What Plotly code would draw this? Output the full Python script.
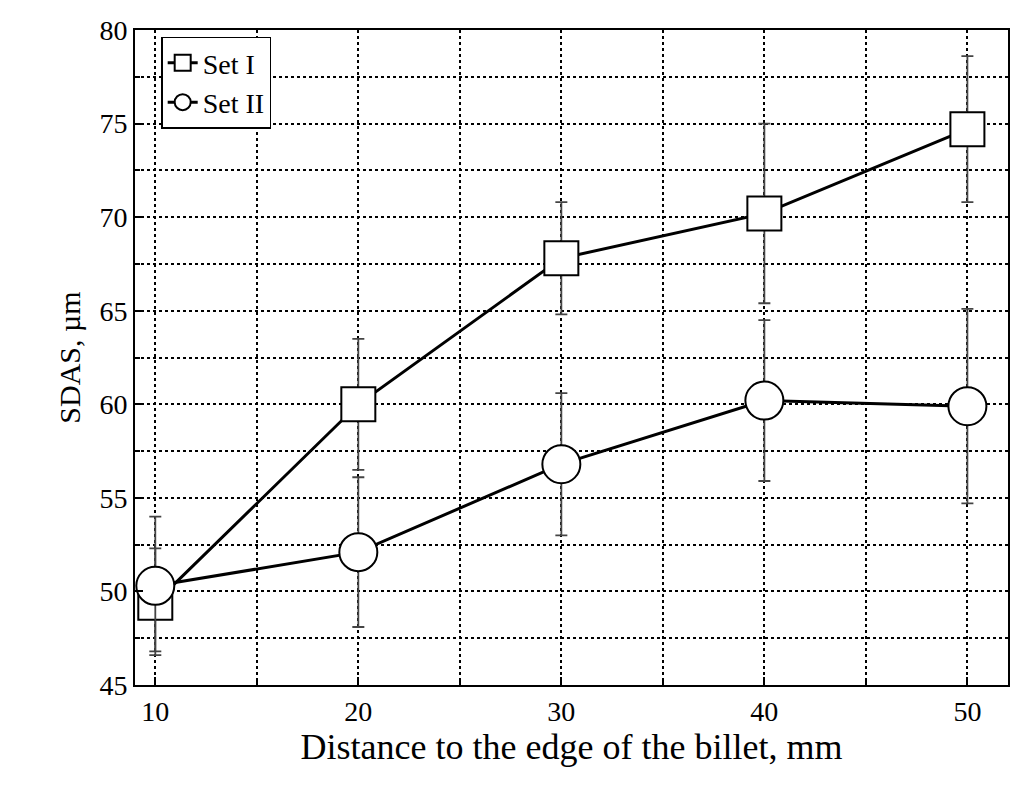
import plotly.graph_objects as go

x = [10, 20, 30, 40, 50]
set1 = [49.4, 60.0, 67.8, 70.2, 74.7]
set1_hi = [54.0, 63.5, 70.8, 75.0, 78.6]
set1_lo = [46.6, 56.5, 64.8, 65.4, 70.8]
set2 = [50.3, 52.1, 56.8, 60.2, 59.9]
set2_hi = [52.3, 56.1, 60.6, 64.5, 65.1]
set2_lo = [46.8, 48.1, 53.0, 55.9, 54.7]

def err(v, hi, lo):
    return dict(type="data", symmetric=False,
                array=[h - a for h, a in zip(hi, v)],
                arrayminus=[a - l for a, l in zip(v, lo)],
                color="#444", thickness=1.8, width=6)

fig = go.Figure()
fig.add_trace(go.Scatter(x=x, y=set1, name="Set I", mode="lines+markers",
    line=dict(color="black", width=3),
    marker=dict(symbol="square", size=34, color="white", line=dict(color="black", width=2)),
    error_y=err(set1, set1_hi, set1_lo)))
fig.add_trace(go.Scatter(x=x, y=set2, name="Set II", mode="lines+markers",
    line=dict(color="black", width=3),
    marker=dict(symbol="circle", size=38, color="white", line=dict(color="black", width=2)),
    error_y=err(set2, set2_hi, set2_lo)))

axis_common = dict(showline=True, linecolor="black", linewidth=2, mirror=True,
                   ticks="inside", tickcolor="black", ticklen=8, tickwidth=2,
                   tickfont=dict(family="Liberation Serif", size=28, color="black"),
                   gridcolor="black", griddash="dot", gridwidth=2, zeroline=False)
fig.update_layout(
    width=1024, height=793, template="none",
    paper_bgcolor="white", plot_bgcolor="white",
    margin=dict(l=127, r=24, t=22, b=116),
    font=dict(family="Liberation Serif", size=28, color="black"),
    xaxis=dict(range=[9, 52], tickvals=x,
               title=dict(text="Distance to the edge of the billet, mm", font=dict(size=36), standoff=8),
               minor=dict(tickvals=[15, 25, 35, 45], ticks="inside", ticklen=5, tickcolor="black",
                          showgrid=True, gridcolor="black", griddash="dot", gridwidth=2),
               **axis_common),
    yaxis=dict(range=[45, 80], dtick=5,
               title=dict(text="SDAS, µm", font=dict(size=30), standoff=10),
               minor=dict(dtick=2.5, ticks="inside", ticklen=5, tickcolor="black",
                          showgrid=True, gridcolor="black", griddash="dot", gridwidth=2),
               **axis_common),
    legend=dict(x=0.03, y=0.99, xanchor="left", yanchor="top", bordercolor="black", borderwidth=1.5,
                bgcolor="white", font=dict(family="Liberation Serif", size=28), tracegroupgap=0),
    showlegend=True,
)
fig.write_html("out.html")
